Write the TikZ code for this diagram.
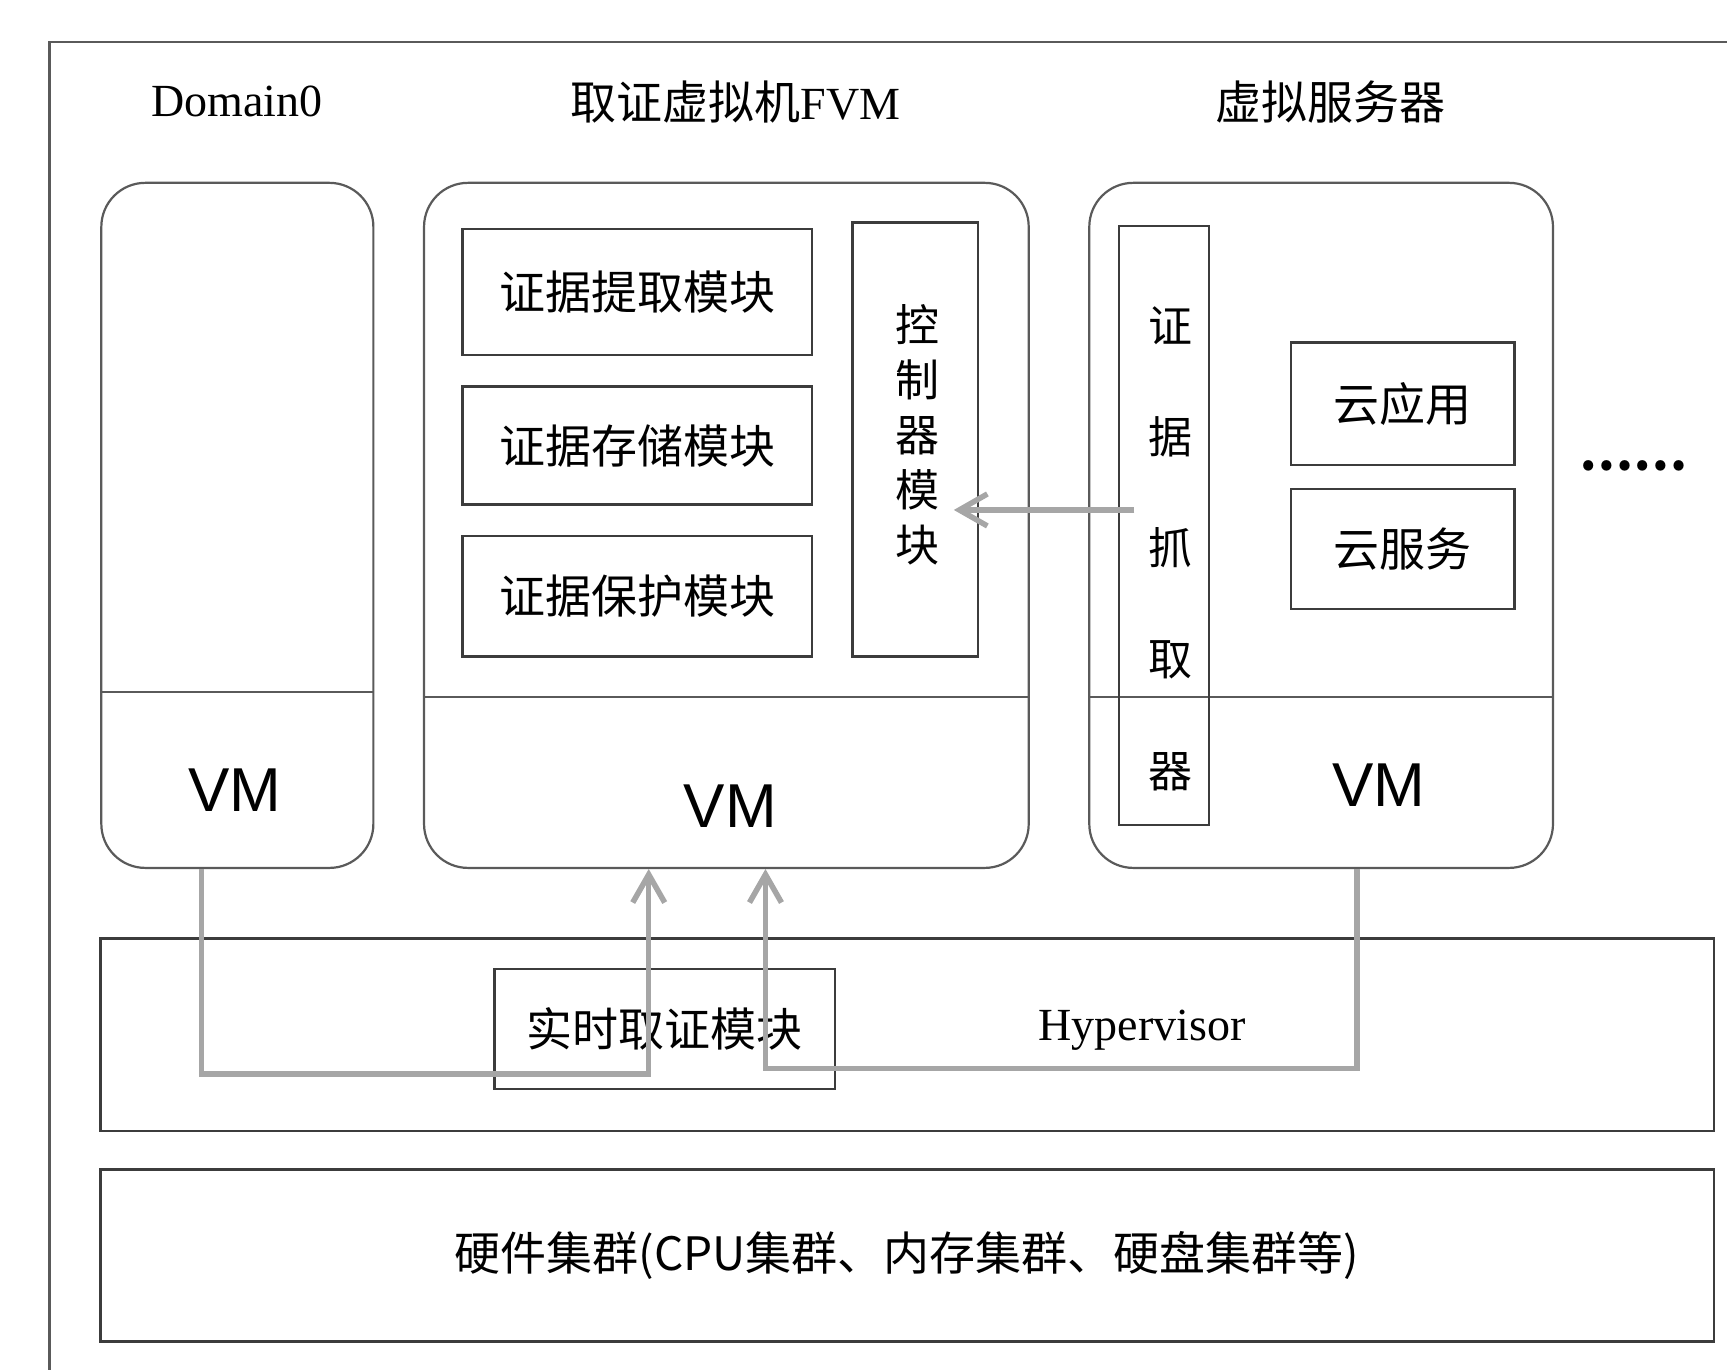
\documentclass[tikz,border=0pt]{standalone}
\usepackage{fontspec}
\setmainfont{Liberation Serif}
\newfontfamily\cjk{Noto Sans CJK SC}
\newfontfamily\lsans{Liberation Sans}
\usetikzlibrary{arrows.meta}
\newcommand\upx{0.5507pt}
\definecolor{boxline}{HTML}{3C3C3C}
\definecolor{rndline}{HTML}{5A5A5A}
\definecolor{conngray}{HTML}{A6A6A6}
\begin{document}
\begin{tikzpicture}[x=0.5507pt,y=-0.5507pt,
  wh/.style 2 args={minimum width=#1*\upx, minimum height=#2*\upx},
  sqbox/.style={draw=boxline, line width=1.1pt, inner sep=0pt, font=\cjk\fontsize{23pt}{28pt}\selectfont},
  bigbox/.style={draw=boxline, line width=1.3pt, inner sep=0pt, font=\cjk\fontsize{23pt}{28pt}\selectfont},
  rndbox/.style={draw=rndline, line width=1.1pt, rounded corners=22pt, inner sep=0pt},
  divline/.style={draw=rndline, line width=1.1pt},
  title/.style={font=\fontsize{23pt}{28pt}\selectfont, inner sep=0pt},
  vmlabel/.style={font=\lsans\fontsize{31pt}{36pt}\selectfont, inner sep=0pt},
  vtext/.style={align=center, inner sep=0pt},
  conn/.style={draw=conngray, line width=2.75pt, line join=miter,
    -{Straight Barb[length=14pt,width=16pt]}}
]
\useasboundingbox (0,0) rectangle (1568,1243);
% outer frame (only top and left visible)
\coordinate (ofa) at (45,1260);
\coordinate (ofb) at (45,38);
\coordinate (ofc) at (1590,38);
\draw[draw=rndline, line width=1.1pt] (ofa) -- (ofb) -- (ofc);

% titles
\node[title] (t1) at (215,92) {Domain0};
\node[title] (t2) at (668,93) {{\cjk 取证虚拟机}FVM};
\node[title,font=\cjk\fontsize{23pt}{28pt}\selectfont] (t3) at (1208,93) {虚拟服务器};

% rounded VM boxes
\node[rndbox, wh={247}{622}] (dom) at (215.5,477) {};
\node[rndbox, wh={549}{622}] (fvm) at (659.5,477) {};
\node[rndbox, wh={421}{622}] (srv) at (1199.5,477) {};

\coordinate (dv1) at (0,628);
\coordinate (dv2) at (0,633);
\draw[divline] (dom.west |- dv1) -- (dom.east |- dv1);
\draw[divline] (fvm.west |- dv2) -- (fvm.east |- dv2);
\draw[divline] (srv.west |- dv2) -- (srv.east |- dv2);

\node[vmlabel] (vm1) at (213,717) {VM};
\node[vmlabel] (vm2) at (663,732) {VM};
\node[vmlabel] (vm3) at (1252,713) {VM};

% FVM modules
\node[sqbox, wh={317}{114}] (m1) at (578.5,265) {证据提取模块};
\node[sqbox, wh={317}{107}] (m2) at (578.5,404.5) {证据存储模块};
\node[sqbox, wh={317}{109}] (m3) at (578.5,541.5) {证据保护模块};
\node[sqbox, wh={114}{394}] (ctrl) at (831,399) {};
\node[vtext, font=\cjk\fontsize{22pt}{27.5pt}\selectfont] (ctrltxt) at (833,395) {控\\制\\器\\模\\块};

% virtual server contents
\node[sqbox, wh={82}{544}] (grab) at (1057,477) {};
\node[vtext, font=\cjk\fontsize{22pt}{55.6pt}\selectfont] (grabtxt) at (1063,498) {证\\据\\抓\\取\\器};
\node[sqbox, wh={203}{111}] (app) at (1273.5,366.5) {云应用};
\node[sqbox, wh={203}{109}] (svc) at (1273.5,498.5) {云服务};
\node[font=\cjk\fontsize{24pt}{28pt}\selectfont, inner sep=0pt] (dots) at (1483,423) {\textbf{……}};

% hypervisor
\node[bigbox, wh={1465}{175}] (hyp) at (823.5,939.5) {};
\node[title] (hyptxt) at (1037,935) {Hypervisor};
\node[sqbox, wh={309}{109}] (rt) at (603.5,934.5) {实时取证模块};

% hardware
\node[bigbox, wh={1465}{156}] (hw) at (823.5,1140) {硬件集群(CPU集群、内存集群、硬盘集群等)};

% connectors
\coordinate (k1) at (183,975);
\coordinate (k2) at (589,975);
\draw[conn] (dom.south -| k1) -- (k1) -- (k2) -- (fvm.south -| k2);
\coordinate (k3) at (1232,970);
\coordinate (k4) at (695,970);
\draw[conn] (srv.south -| k3) -- (k3) -- (k4) -- (fvm.south -| k4);
\coordinate (k5) at (1030,463);
\coordinate (k6) at (866,463);
\draw[conn] (k5) -- (k6);
\end{tikzpicture}
\end{document}
